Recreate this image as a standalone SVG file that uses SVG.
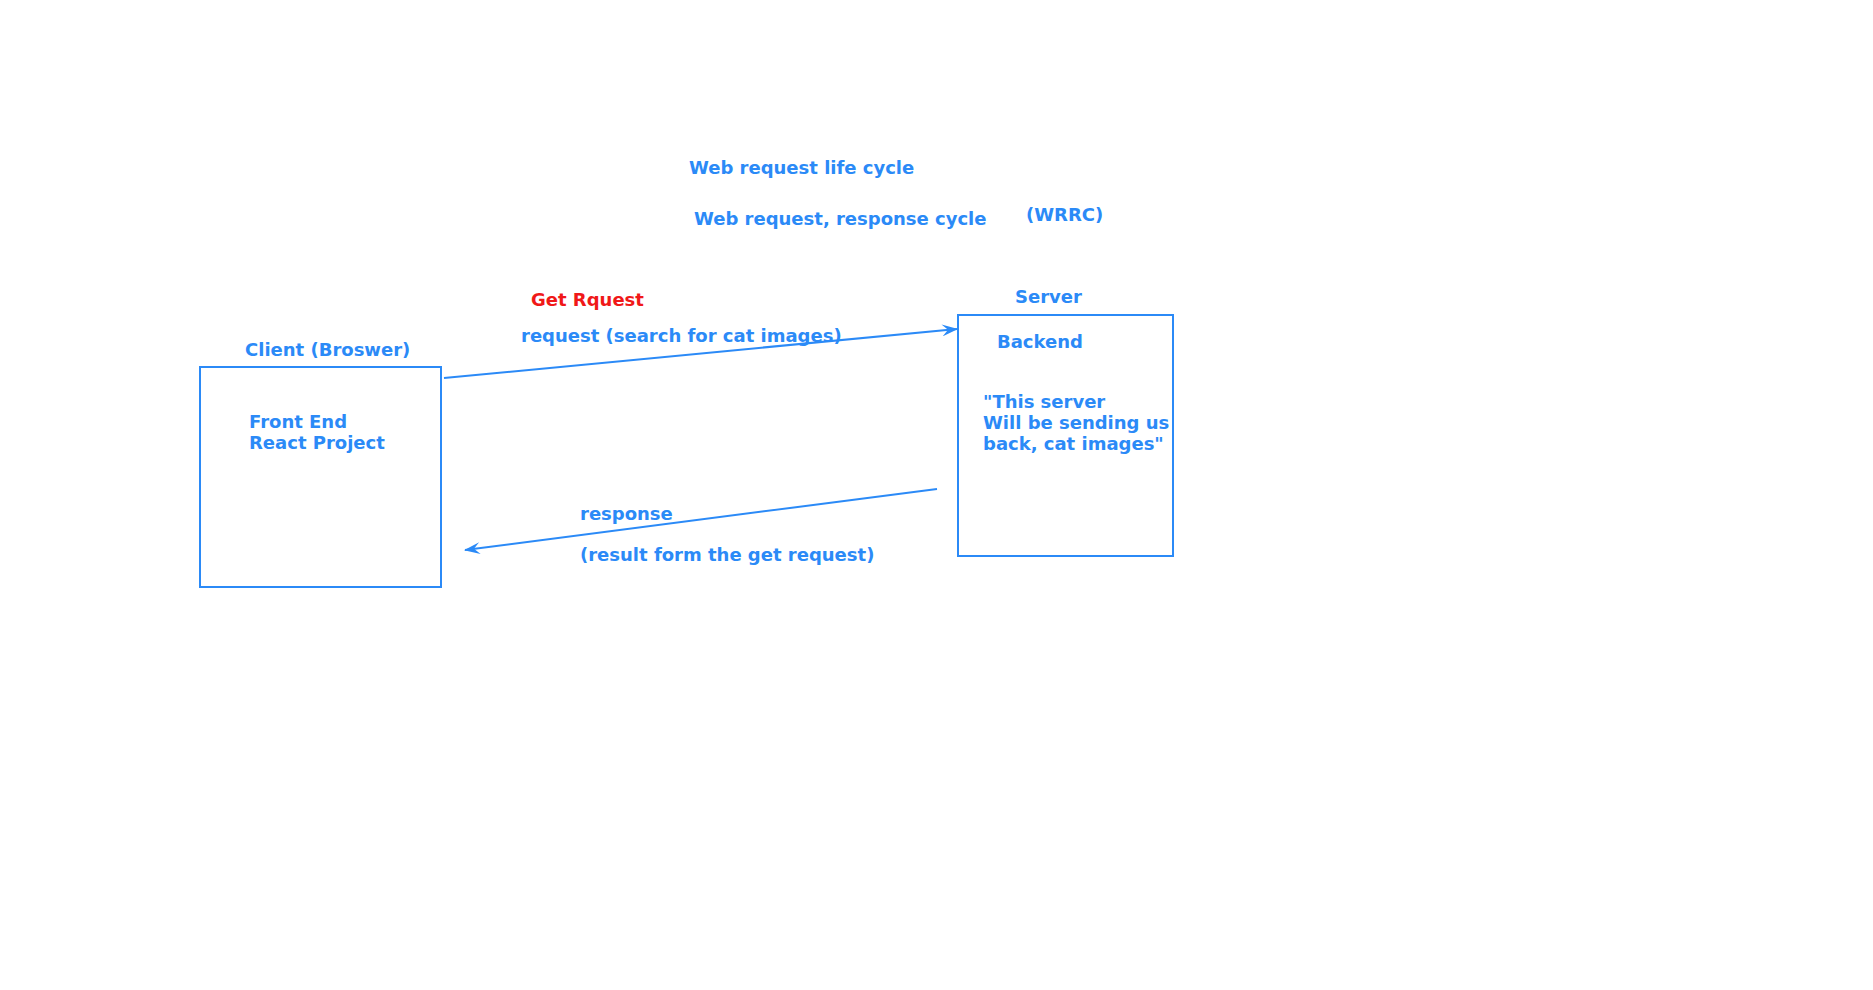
<svg xmlns="http://www.w3.org/2000/svg" width="1873" height="990" viewBox="0 0 1873 990">
<style>
  .t { font-family: "DejaVu Sans", sans-serif; font-weight: bold; font-size: 18px; fill: #2b8af7; }
  .red { fill: #f01818; }
  .box { fill: none; stroke: #2b8af7; stroke-width: 2; }
  .conn { stroke: #2b8af7; stroke-width: 2; fill: none; }
</style>
<defs>
  <marker id="arr" viewBox="0 0 16 12" refX="15" refY="6" markerWidth="16" markerHeight="12" markerUnits="userSpaceOnUse" orient="auto">
    <path d="M0,0 L16,6 L0,12 L6,6 z" fill="#2b8af7"/>
  </marker>
</defs>
<rect width="1873" height="990" fill="#ffffff"/>
<g id="title">
  <text class="t" x="689" y="174">Web request life cycle</text>
  <text class="t" x="694" y="225">Web request, response cycle</text>
  <text class="t" x="1026" y="221">(WRRC)</text>
</g>
<g id="client">
  <text class="t" x="245" y="356">Client (Broswer)</text>
  <rect class="box" x="200" y="367" width="241" height="220"/>
  <text class="t" x="249" y="428">Front End</text>
  <text class="t" x="249" y="449">React Project</text>
</g>
<g id="server">
  <text class="t" x="1015" y="303">Server</text>
  <rect class="box" x="958" y="315" width="215" height="241"/>
  <text class="t" x="997" y="348">Backend</text>
  <text class="t" x="983" y="408">"This server</text>
  <text class="t" x="983" y="429">Will be sending us</text>
  <text class="t" x="983" y="450">back, cat images"</text>
</g>
<g id="connectors">
  <line class="conn" x1="444" y1="378" x2="957" y2="329" marker-end="url(#arr)"/>
  <line class="conn" x1="937" y1="489" x2="465" y2="550" marker-end="url(#arr)"/>
  <text class="t red" x="531" y="306">Get Rquest</text>
  <text class="t" x="521" y="342">request (search for cat images)</text>
  <text class="t" x="580" y="520">response</text>
  <text class="t" x="580" y="561">(result form the get request)</text>
</g>
</svg>
